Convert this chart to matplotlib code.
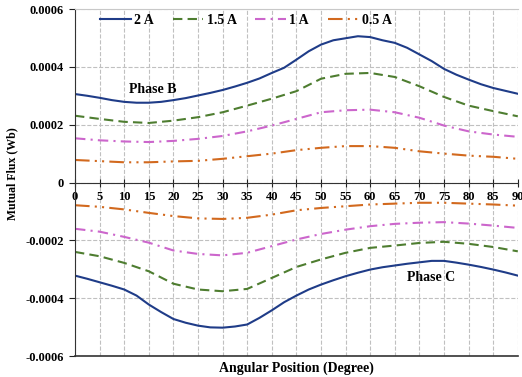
import matplotlib
matplotlib.use('Agg')
import matplotlib.pyplot as plt

# --- Data ---
# 2 A curves were read every 2.5 degrees, the others every 5 degrees
angle_fine = [0, 2.5, 5, 7.5, 10, 12.5, 15, 17.5, 20, 22.5, 25, 27.5, 30, 32.5, 35, 37.5, 40, 42.5, 45,
              47.5, 50, 52.5, 55, 57.5, 60, 62.5, 65, 67.5, 70, 72.5, 75, 77.5, 80, 82.5, 85, 87.5, 90]
angle = [0, 5, 10, 15, 20, 25, 30, 35, 40, 45, 50, 55, 60, 65, 70, 75, 80, 85, 90]

phase_b_2a = [0.000306, 0.000300, 0.000293, 0.000285, 0.000279, 0.000276, 0.000276, 0.000279, 0.000285,
              0.000292, 0.000301, 0.000310, 0.000320, 0.000332, 0.000345, 0.000360, 0.000379, 0.000397,
              0.000425, 0.000454, 0.000477, 0.000492, 0.000499, 0.000506, 0.000503, 0.000492, 0.000483,
              0.000466, 0.000443, 0.000420, 0.000393, 0.000373, 0.000356, 0.000340, 0.000327, 0.000317, 0.000307]
phase_b_15a = [0.000231, 0.000220, 0.000210, 0.000206, 0.000214, 0.000226, 0.000243, 0.000266, 0.000290,
               0.000316, 0.000359, 0.000376, 0.000379, 0.000365, 0.000333, 0.000296, 0.000266, 0.000247, 0.000229]
phase_b_1a = [0.000153, 0.000146, 0.000142, 0.000140, 0.000144, 0.000151, 0.000161, 0.000177, 0.000197,
              0.000220, 0.000243, 0.000250, 0.000252, 0.000243, 0.000224, 0.000197, 0.000177, 0.000166, 0.000158]
phase_b_05a = [0.000078, 0.000074, 0.000070, 0.000070, 0.000073, 0.000075, 0.000082, 0.000091, 0.000100,
               0.000112, 0.000120, 0.000126, 0.000126, 0.000120, 0.000108, 0.000100, 0.000093, 0.000089, 0.000082]

phase_c_2a = [-0.000322, -0.000333, -0.000345, -0.000357, -0.000370, -0.000391, -0.000422, -0.000448, -0.000472,
              -0.000485, -0.000495, -0.000501, -0.000502, -0.000498, -0.000491, -0.000468, -0.000442, -0.000414,
              -0.000391, -0.000370, -0.000353, -0.000338, -0.000324, -0.000312, -0.000301, -0.000293, -0.000287,
              -0.000281, -0.000276, -0.000271, -0.000271, -0.000277, -0.000284, -0.000292, -0.000301, -0.000311, -0.000322]
phase_c_15a = [-0.000240, -0.000255, -0.000278, -0.000307, -0.000350, -0.000370, -0.000376, -0.000368, -0.000330,
               -0.000292, -0.000266, -0.000243, -0.000226, -0.000218, -0.000209, -0.000205, -0.000212, -0.000223, -0.000238]
phase_c_1a = [-0.000160, -0.000170, -0.000188, -0.000208, -0.000235, -0.000247, -0.000252, -0.000243, -0.000220,
              -0.000197, -0.000178, -0.000163, -0.000151, -0.000143, -0.000139, -0.000137, -0.000142, -0.000149, -0.000157]
phase_c_05a = [-0.0000785, -0.000084, -0.000093, -0.000105, -0.000116, -0.000124, -0.000126, -0.000122, -0.000111,
               -0.000096, -0.000088, -0.000082, -0.000076, -0.000073, -0.000070, -0.000070, -0.000073, -0.000076, -0.000080]

labels = ['2 A', '1.5 A', '1 A', '0.5 A']
colors = ['#1f3c88', '#4e7d30', '#cc66cc', '#d2691e']
styles = ['-', (0, (4.5, 2.5)), (0, (5, 2.5, 1, 2.5)), (0, (7, 2.5, 1, 2.5, 1, 2.5))]

y_ticks = [-0.0006, -0.0004, -0.0002, 0, 0.0002, 0.0004, 0.0006]
y_tick_labels = ['-0.0006', '-0.0004', '-0.0002', '0', '0.0002', '0.0004', '0.0006']
x_ticks = list(range(0, 95, 5))

plt.rcParams['font.family'] = ['Liberation Serif', 'DejaVu Serif']
plt.rcParams['font.weight'] = 'bold'

fig = plt.figure(figsize=(5.22, 3.77), dpi=100)
ax = fig.add_axes([0.1437, 0.0557, 0.8483, 0.9203])

phase_b = [phase_b_2a, phase_b_15a, phase_b_1a, phase_b_05a]
phase_c = [phase_c_2a, phase_c_15a, phase_c_1a, phase_c_05a]
x_sets = [angle_fine, angle, angle, angle]
for xs, yb, yc, lab, col, ls in zip(x_sets, phase_b, phase_c, labels, colors, styles):
    ax.plot(xs, yb, color=col, linestyle=ls, linewidth=1.5, label=lab)
    ax.plot(xs, yc, color=col, linestyle=ls, linewidth=1.5)

ax.set_xlim(0, 90)
ax.set_ylim(-0.0006, 0.0006)
ax.set_xticks(x_ticks)
ax.set_yticks(y_ticks)
ax.set_yticklabels(y_tick_labels)
ax.grid(True, linestyle='--', color='#c0c0c0', linewidth=0.8)

ax.spines['bottom'].set_position(('data', 0))
ax.spines['bottom'].set_color('#333333')
ax.spines['left'].set_color('#333333')
ax.spines['top'].set_color('#c8c8c8')
ax.spines['right'].set_visible(False)
ax.axhline(-0.0006, color='#333333', linewidth=1.2, clip_on=False)

ax.tick_params(axis='x', direction='inout', length=6, pad=3, labelsize=9, colors='#222222')
ax.tick_params(axis='y', direction='out', length=4, pad=4, labelsize=9, colors='#222222')
for t in ax.get_xticklabels() + ax.get_yticklabels():
    t.set_fontweight('bold')
    t.set_color('black')

ax.set_xlabel('Angular Position (Degree)', fontsize=10, fontweight='bold', labelpad=2)
ax.xaxis.set_label_coords(0.5, -0.015)
ax.set_ylabel('Mutual Flux (Wb)', fontsize=8.5, fontweight='bold')
ax.yaxis.set_label_coords(-0.128, 0.527)

ax.text(15.8, 0.000322, 'Phase B', fontsize=10, fontweight='bold', ha='center', va='center')
ax.text(72.3, -0.00033, 'Phase C', fontsize=10, fontweight='bold', ha='center', va='center')

ax.legend(loc='upper left', bbox_to_anchor=(0.0564, 0.986), ncol=4, frameon=False,
          prop={'weight': 'bold', 'size': 10}, handlelength=2.2, columnspacing=1.35,
          handletextpad=0.25, borderaxespad=0, borderpad=0)

plt.savefig('out.png', dpi=100)
